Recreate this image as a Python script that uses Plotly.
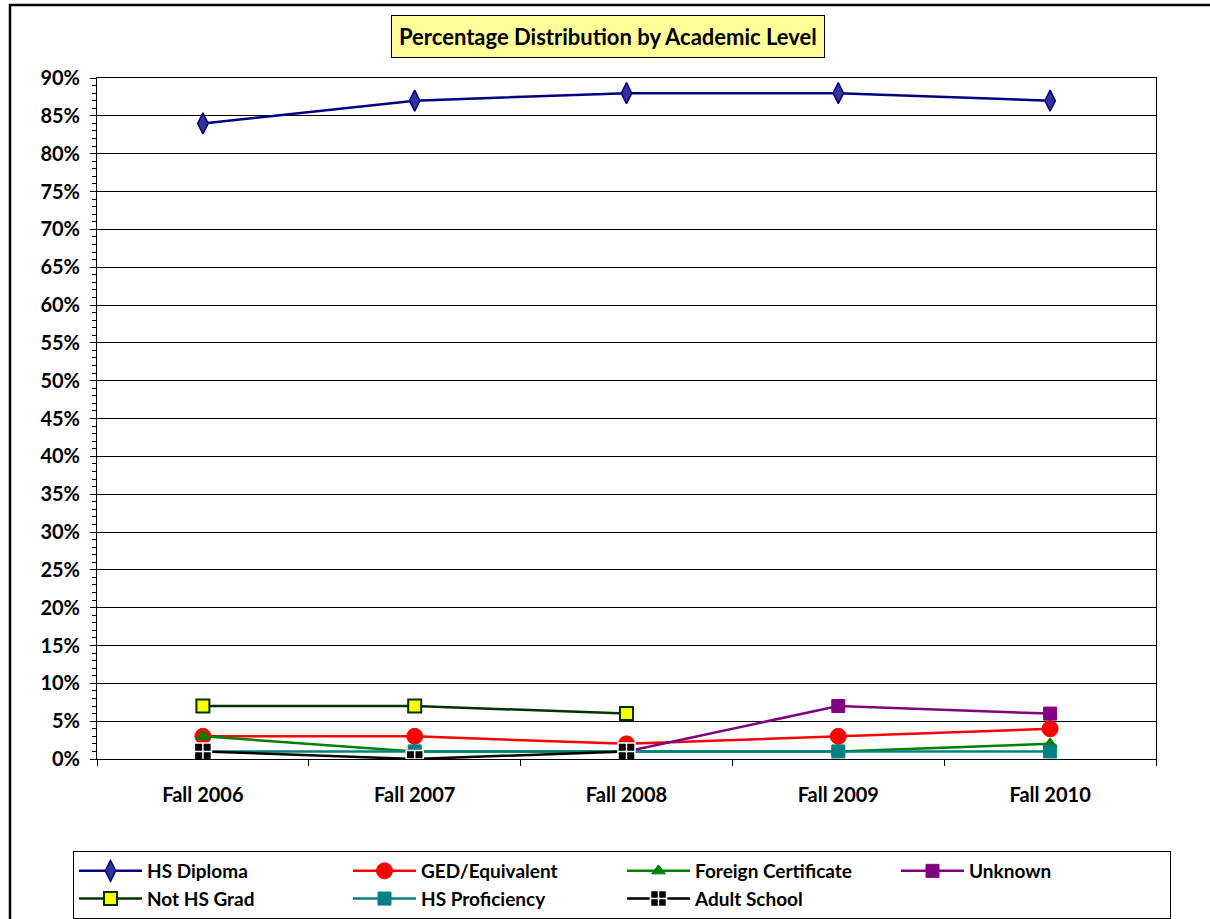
import plotly.graph_objects as go

categories = ["Fall 2006", "Fall 2007", "Fall 2008", "Fall 2009", "Fall 2010"]

hs_diploma = [84, 87, 88, 88, 87]
ged_equivalent = [3, 3, 2, 3, 4]
foreign_certificate = [3, 1, 1, 1, 2]
unknown = [None, None, 1, 7, 6]
not_hs_grad = [7, 7, 6, None, None]
hs_proficiency = [1, 1, 1, 1, 1]
adult_school = [1, 0, 1, None, None]

y_ticks = list(range(0, 91, 5))
y_tick_labels = [f"{v}%" for v in y_ticks]

FONT = "Lato, 'Liberation Sans Narrow', sans-serif"

series = [
    ("HS Diploma", hs_diploma, "#000080", dict(symbol="diamond-tall", size=15, color="#333399", line=dict(color="#000080", width=1.5))),
    ("GED/Equivalent", ged_equivalent, "#FF0000", dict(symbol="circle", size=16, color="#FF0000", line=dict(color="#FF0000", width=1))),
    ("Foreign Certificate", foreign_certificate, "#008000", dict(symbol="triangle-up", size=12, color="#008000", line=dict(color="#008000", width=1))),
    ("Unknown", unknown, "#800080", dict(symbol="square", size=13, color="#800080", line=dict(color="#800080", width=1))),
    ("Not HS Grad", not_hs_grad, "#003300", dict(symbol="square", size=13, color="#FFFF00", line=dict(color="#003300", width=2))),
    ("HS Proficiency", hs_proficiency, "#008080", dict(symbol="square", size=13, color="#008080", line=dict(color="#008080", width=1))),
    ("Adult School", adult_school, "#000000", dict(symbol="square-cross", size=17, color="#000000", line=dict(color="#FFFFFF", width=1.5))),
]

fig = go.Figure()
for name, vals, col, mk in series:
    fig.add_trace(go.Scatter(
        x=categories, y=vals, name=name, mode="lines+markers",
        line=dict(color=col, width=2.5), marker=mk, connectgaps=False,
    ))

W, H = 1210, 919
ML, MR, MT, MB = 97, 54, 78, 160
PW, PH = W - ML - MR, H - MT - MB
PB = MT + PH  # pixel row of plot bottom

fig.update_layout(
    width=W, height=H,
    margin=dict(l=ML, r=MR, t=MT, b=MB, autoexpand=False),
    paper_bgcolor="white", plot_bgcolor="white",
    font=dict(family=FONT, size=19, color="black", weight="bold"),
    showlegend=True,
    legend=dict(
        orientation="h", x=(73 - ML) / PW, xanchor="left", y=-(851 - PB) / PH, yanchor="top",
        bordercolor="black", borderwidth=1, bgcolor="white",
        font=dict(family=FONT, size=19, color="black", weight="bold"),
        itemwidth=63, entrywidth=196, entrywidthmode="pixels",
        traceorder="normal", tracegroupgap=0,
    ),
    annotations=[dict(
        text="<b>Percentage Distribution by Academic Level</b>",
        xref="paper", yref="paper", x=(607.5 - ML) / PW, y=1.0, yshift=MT - 36.5,
        xanchor="center", yanchor="middle", showarrow=False,
        font=dict(family=FONT, size=22, color="black"),
        bgcolor="#FFFF99", bordercolor="black", borderwidth=1, borderpad=7,
    )],
    shapes=[dict(
        type="rect", xref="paper", yref="paper",
        x0=(10 - ML) / PW, x1=(1240 - ML) / PW,
        y0=(PB - 940) / PH, y1=(PB - 5) / PH,
        line=dict(color="black", width=2.5), fillcolor="rgba(0,0,0,0)", layer="below",
    )],
)

fig.update_xaxes(
    type="category", range=[-0.5, 4.5],
    showline=True, linecolor="black", linewidth=1, mirror=True,
    ticks="outside", ticklen=6, tickcolor="black", tickson="boundaries",
    showgrid=False, ticklabelstandoff=18,
    tickfont=dict(family=FONT, size=20, color="black", weight="bold"),
)
fig.update_yaxes(
    range=[0, 90], tickvals=y_ticks, ticktext=y_tick_labels,
    showline=True, linecolor="black", linewidth=1, mirror=True,
    showgrid=True, gridcolor="black", gridwidth=1,
    ticks="outside", ticklen=6, tickcolor="black",
    minor=dict(dtick=1, ticks="outside", ticklen=4, tickcolor="black", showgrid=False),
    ticklabelstandoff=6, zeroline=False,
    tickfont=dict(family=FONT, size=20, color="black", weight="bold"),
)

fig.write_html("out.html", config={"displayModeBar": False},
               post_script="document.body.style.margin='0';")
